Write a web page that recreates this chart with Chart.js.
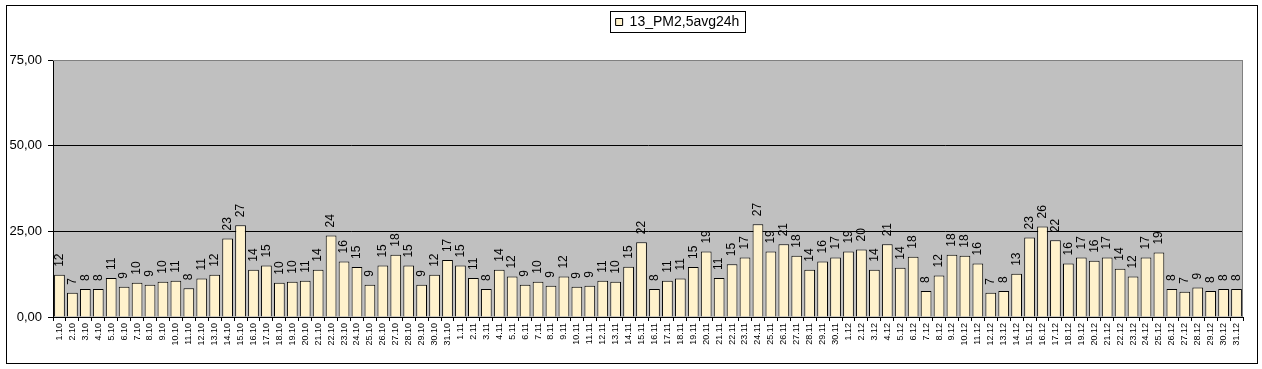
<!DOCTYPE html>
<html>
<head>
<meta charset="utf-8">
<title>13_PM2,5avg24h</title>
<script src="https://cdn.jsdelivr.net/npm/chart.js@4/dist/chart.umd.min.js"></script>
<style>
  html, body { margin: 0; padding: 0; background: #fff; }
  #wrap { position: relative; width: 1262px; height: 369px; }
</style>
</head>
<body>
<div id="wrap"><canvas id="pmChart" width="1262" height="369"></canvas></div>
<script>
// daily averages
const october = [12.3, 7.1, 8.2, 8.2, 11.4, 8.8, 10.0, 9.4, 10.3, 10.6, 8.4, 11.2, 12.3, 22.9, 26.8, 13.8,
  15.0, 10.0, 10.3, 10.6, 13.8, 23.8, 16.2, 14.6, 9.4, 15.0, 18.2, 15.0, 9.4, 12.3, 16.6];
const november = [15.0, 11.4, 8.2, 13.8, 11.8, 9.4, 10.3, 9.1, 11.8, 8.8, 9.1, 10.6, 10.3, 14.7, 21.8,
  8.2, 10.6, 11.2, 14.6, 19.1, 11.4, 15.4, 17.4, 27.1, 19.1, 21.2, 17.9, 13.8, 16.2, 17.4];
const december = [19.1, 19.7, 13.8, 21.2, 14.4, 17.6, 7.6, 12.1, 18.2, 17.9, 15.6, 7.1, 7.6, 12.6, 23.2,
  26.4, 22.4, 15.6, 17.4, 16.4, 17.4, 14.1, 11.8, 17.4, 18.8, 8.2, 7.4, 8.6, 7.6, 8.2, 8.2];

const seriesName = "13_PM2,5avg24h";
const yTicks = [0, 25, 50, 75];

const labels = [
  ...october.map((v, i) => (i + 1) + ".10"),
  ...november.map((v, i) => (i + 1) + ".11"),
  ...december.map((v, i) => (i + 1) + ".12")
];
const values = [...october, ...november, ...december];

const FONT = "'Liberation Sans', Arial, sans-serif";

// frame around whole chart + grey plot area + legend box
const framePlugin = {
  id: "frame",
  afterLayout(chart) {
    // legend sits a bit right of centre in the original
    chart.legend.left += 56;
    chart.legend.right += 56;
  },
  beforeDraw(chart) {
    const ctx = chart.ctx;
    const a = chart.chartArea;
    ctx.save();
    ctx.fillStyle = "#C0C0C0";
    ctx.fillRect(a.left, a.top, a.right - a.left, a.bottom - a.top);
    ctx.lineWidth = 1;
    ctx.strokeStyle = "#000";
    ctx.strokeRect(6.5, 5.5, 1251, 358);
    ctx.restore();
  },
  afterDraw(chart) {
    const ctx = chart.ctx;
    const a = chart.chartArea;
    ctx.save();
    ctx.strokeStyle = "#808080";
    ctx.lineWidth = 1;
    ctx.beginPath();
    ctx.moveTo(a.left, a.top + 0.5);
    ctx.lineTo(a.right - 0.5, a.top + 0.5);
    ctx.lineTo(a.right - 0.5, a.bottom);
    ctx.stroke();
    const hb = chart.legend.legendHitBoxes[0];
    if (hb) {
      ctx.strokeStyle = "#000";
      ctx.strokeRect(Math.round(hb.left) - 5.5, Math.round(hb.top) - 3.5, Math.round(hb.width) + 11, Math.round(hb.height) + 7);
    }
    ctx.restore();
  }
};

// value labels, rotated, above each bar
const barLabels = {
  id: "barLabels",
  afterDatasetsDraw(chart) {
    const ctx = chart.ctx;
    const meta = chart.getDatasetMeta(0);
    ctx.save();
    ctx.font = "12px " + FONT;
    ctx.fillStyle = "#000";
    ctx.textAlign = "left";
    ctx.textBaseline = "middle";
    meta.data.forEach((bar, i) => {
      ctx.save();
      ctx.translate(bar.x, bar.y - 8);
      ctx.rotate(-Math.PI / 2);
      ctx.fillText(String(Math.round(values[i])), 0, 0);
      ctx.restore();
    });
    ctx.restore();
  }
};

new Chart(document.getElementById("pmChart"), {
  type: "bar",
  data: {
    labels: labels,
    datasets: [{
      label: seriesName,
      data: values,
      backgroundColor: "#FFF2CC",
      borderColor: "#000",
      borderWidth: 1,
      barPercentage: 0.83,
      categoryPercentage: 1
    }]
  },
  options: {
    responsive: false,
    animation: false,
    layout: { padding: { left: 0, right: 19, top: 0, bottom: 0 } },
    plugins: {
      tooltip: { enabled: false },
      legend: {
        display: true,
        position: "top",
        weight: 3000,
        labels: {
          color: "#000",
          font: { family: FONT, size: 14 },
          boxWidth: 7,
          boxHeight: 7,
          padding: 15
        }
      },
      // empty title used only as a spacer between legend and plot
      title: {
        display: true,
        text: "",
        position: "top",
        font: { size: 10 },
        padding: { top: 0, bottom: 9 }
      }
    },
    scales: {
      x: {
        ticks: {
          autoSkip: false,
          minRotation: 90,
          maxRotation: 90,
          padding: 2,
          color: "#000",
          font: { family: FONT, size: 9 }
        },
        grid: {
          offset: true,
          drawOnChartArea: false,
          drawTicks: true,
          tickLength: 4,
          color: "#000"
        },
        border: { color: "#000", width: 1 },
        afterFit(scale) { scale.height = 52; }
      },
      y: {
        min: 0,
        max: 75,
        afterBuildTicks(scale) { scale.ticks = yTicks.map(v => ({ value: v })); },
        ticks: {
          padding: 6,
          color: "#000",
          font: { family: FONT, size: 13 },
          callback: v => v.toFixed(2).replace(".", ",")
        },
        grid: {
          tickLength: 5,
          color: ctx => (ctx.tick && ctx.tick.value === 75 ? "#808080" : "#000"),
          tickColor: "#000"
        },
        border: { color: "#000", width: 1 },
        afterFit(scale) { scale.width = 53; }
      }
    }
  },
  plugins: [framePlugin, barLabels]
});
</script>
</body>
</html>
